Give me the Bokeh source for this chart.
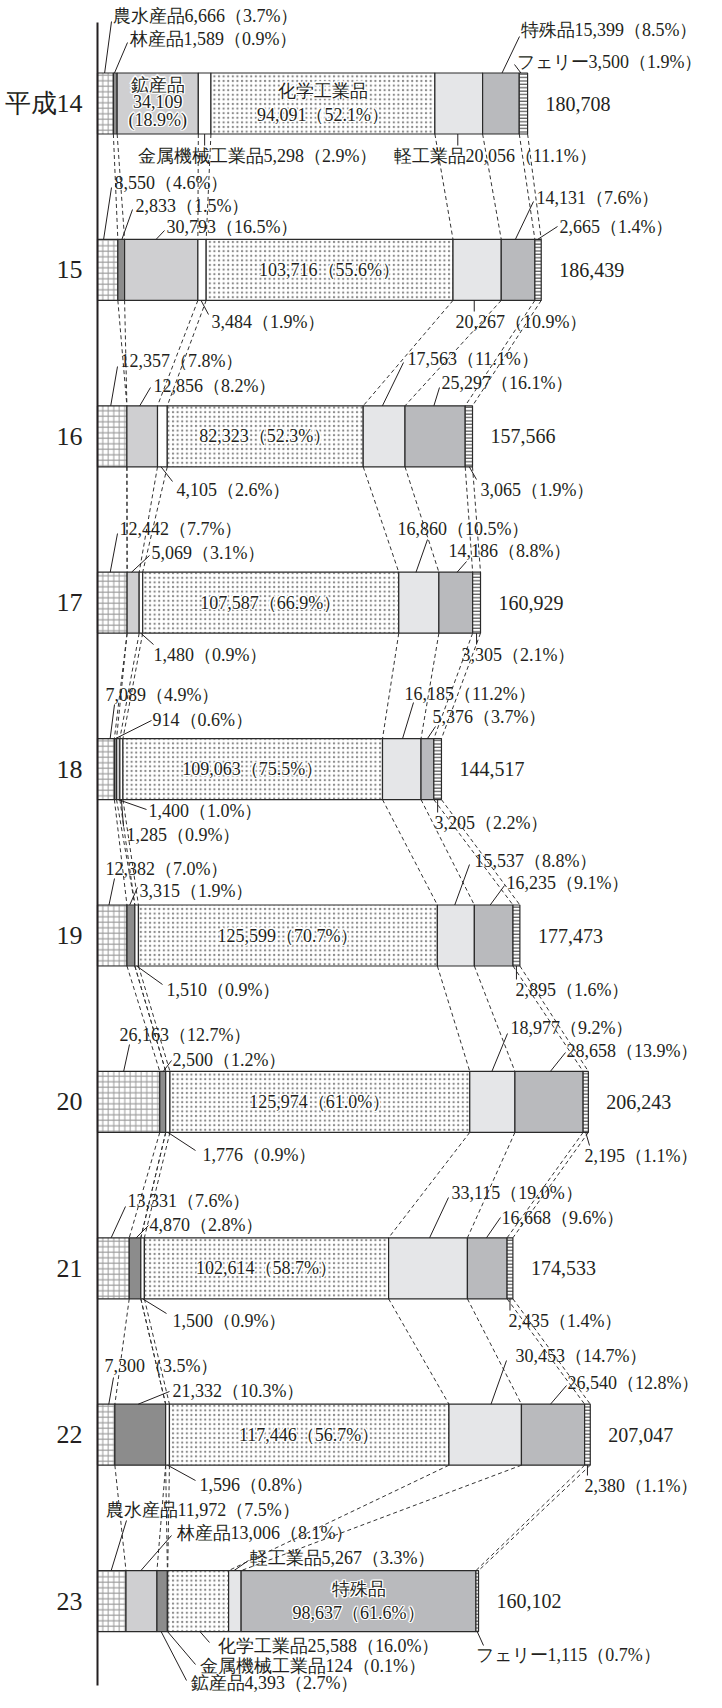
from bokeh.plotting import figure
from bokeh.models import ColumnDataSource, Range1d
from bokeh.core.properties import value
from bokeh.embed import file_html
from bokeh.resources import INLINE

# ---------------- data ----------------
years = ["平成14", "15", "16", "17", "18", "19", "20", "21", "22", "23"]
categories = ["農水産品", "林産品", "鉱産品", "金属機械工業品", "化学工業品", "軽工業品", "特殊品", "フェリー"]

agri    = [6666, 8550, 12357, 12442, 7089, 12382, 26163, 13331, 7300, 11972]
forest  = [1589, 2833, 0, 0, 914, 3315, 2500, 4870, 21332, 13006]
mineral = [34109, 30793, 12856, 5069, 1400, 0, 0, 0, 0, 4393]
metal   = [5298, 3484, 4105, 1480, 1285, 1510, 1776, 1500, 1596, 124]
chem    = [94091, 103716, 82323, 107587, 109063, 125599, 125974, 102614, 117446, 25588]
light   = [20056, 20267, 17563, 16860, 16185, 15537, 18977, 33115, 30453, 5267]
special = [15399, 14131, 25297, 14186, 5376, 16235, 28658, 16668, 26540, 98637]
ferry   = [3500, 2665, 3065, 3305, 3205, 2895, 2195, 2435, 2380, 1115]

pct_agri    = [3.7, 4.6, 7.8, 7.7, 4.9, 7.0, 12.7, 7.6, 3.5, 7.5]
pct_forest  = [0.9, 1.5, None, None, 0.6, 1.9, 1.2, 2.8, 10.3, 8.1]
pct_mineral = [18.9, 16.5, 8.2, 3.1, 1.0, None, None, None, None, 2.7]
pct_metal   = [2.9, 1.9, 2.6, 0.9, 0.9, 0.9, 0.9, 0.9, 0.8, 0.1]
pct_chem    = [52.1, 55.6, 52.3, 66.9, 75.5, 70.7, 61.0, 58.7, 56.7, 16.0]
pct_light   = [11.1, 10.9, 11.1, 10.5, 11.2, 8.8, 9.2, 19.0, 14.7, 3.3]
pct_special = [8.5, 7.6, 16.1, 8.8, 3.7, 9.1, 13.9, 9.6, 12.8, 61.6]
pct_ferry   = [1.9, 1.4, 1.9, 2.1, 2.2, 1.6, 1.1, 1.4, 1.1, 0.7]

totals = [180708, 186439, 157566, 160929, 144517, 177473, 206243, 174533, 207047, 160102]

series = [agri, forest, mineral, metal, chem, light, special, ferry]
pcts = [pct_agri, pct_forest, pct_mineral, pct_metal, pct_chem, pct_light, pct_special, pct_ferry]

# ---------------- styles ----------------
fills   = ["white", "#8c8c8c", "#cfcfd1", "white", "white", "#e5e6e8", "#b9babd", "white"]
hatches = ["+", None, None, None, ".", None, None, "-"]
hatch_colors = ["#9a9a9a", None, None, None, "#8a8a8a", None, None, "#333333"]
hatch_scales = [5.5, 12, 12, 12, 4.6, 12, 12, 3.4]
hatch_weights = [1.0, 1, 1, 1, 1.0, 1, 1, 1.0]
swap_shade_year = "23"   # in the last bar the two shades of forest/mineral are exchanged

INK = "#231f20"
NUM_FONT = value("Liberation Serif")
FS = "18px"

# ---------------- geometry ----------------
PX = 0.00238      # page pixels per unit
AX = 105          # page x of the axis
ROW0 = 111        # page y of the first bar centre
ROWH = 166.4      # page pixels between bars
BAR_H = 61        # bar thickness in page pixels
H = BAR_H / ROWH

def fx(px):
    return (px - AX) / PX

def fy(py):
    return (py - ROW0) / ROWH

p = figure(width=706, height=1692, x_range=Range1d(fx(8), fx(714)),
           y_range=Range1d(fy(1700), fy(8)), output_backend="svg",
           toolbar_location=None, min_border=0)
p.xaxis.visible = False
p.yaxis.visible = False
p.xgrid.visible = False
p.ygrid.visible = False
p.outline_line_color = None
p.background_fill_color = "white"
p.border_fill_color = "white"

n = len(years)
cum = []  # cum[i][k] = boundary k of bar i (k = 0..8)
for i in range(n):
    c = [0]
    for s in series:
        c.append(c[-1] + s[i])
    cum.append(c)

# dashed connectors between consecutive bars
cx0, cy0, cx1, cy1 = [], [], [], []
for i in range(n - 1):
    for k in range(1, 9):
        cx0.append(cum[i][k]); cy0.append(i + H / 2)
        cx1.append(cum[i + 1][k]); cy1.append(i + 1 - H / 2)
p.segment(x0=cx0, y0=cy0, x1=cx1, y1=cy1, line_color="#333333", line_width=1,
          line_dash="4 3")

# bars
for k, s in enumerate(series):
    ys, ls, rs, fc = [], [], [], []
    for i in range(n):
        if s[i] <= 0:
            continue
        ys.append(i); ls.append(cum[i][k]); rs.append(cum[i][k + 1])
        f = fills[k]
        if years[i] == swap_shade_year and k in (1, 2):
            f = fills[3 - k]
        fc.append(f)
    src = ColumnDataSource(dict(y=ys, left=ls, right=rs, fill=fc))
    kw = {}
    if hatches[k]:
        kw = dict(hatch_pattern=hatches[k], hatch_color=hatch_colors[k],
                  hatch_scale=hatch_scales[k], hatch_weight=hatch_weights[k])
    p.hbar(y="y", left="left", right="right", height=H, source=src,
           fill_color="fill", line_color="#2a2a2a", line_width=1.2, **kw)

# vertical axis line
p.segment(x0=[0], y0=[fy(30)], x1=[0], y1=[fy(1693)], line_color=INK, line_width=2)

# year labels
p.text(x=[0] * n, y=list(range(n)), text=years, x_offset=-15, text_align="right",
       text_baseline="middle", text_font=NUM_FONT, text_font_size="26px", text_color=INK)

# totals
p.text(x=totals, y=list(range(n)), text=[f"{t:,}" for t in totals], x_offset=18,
       text_align="left", text_baseline="middle", text_font=NUM_FONT,
       text_font_size="20px", text_color=INK)

def lab(i, k, name):
    v = series[k][i]
    pc = pcts[k][i]
    s = f"{v:,}（{pc:.1f}%）"
    return (categories[k] + s) if name else s

# callouts: year, category, text x, text y, leader start x, y, leader point in segment, edge (page px)
callouts = [
    (0, 0, 120, 23, 119, 29, 0.45, "t"), (0, 1, 137, 46, 135, 50, 0.3, "t"),
    (0, 6, 528, 37, 527, 44, 0.53, "t"), (0, 7, 524, 69, 522, 72, 0.2, "t"),
    (0, 3, 145, 163, None, None, 0.5, "b"), (0, 5, 401, 163, None, None, 0.48, "b"),
    (1, 0, 122, 190, 119, 195, 0.3, "t"), (1, 1, 143, 213, 140, 217, 0.6, "t"),
    (1, 2, 174, 234, 172, 238, 0.43, "t"), (1, 6, 544, 205, 541, 209, 0.42, "t"),
    (1, 7, 567, 234, 565, 234, 0.44, "t"), (1, 3, 219, 329, 216, 322, 0.38, "b"),
    (1, 5, 463, 329, None, None, 0.44, "b"),
    (2, 0, 128, 368, 125, 374, 0.45, "t"), (2, 2, 161, 393, 158, 395, 0.42, "t"),
    (2, 5, 415, 366, 411, 370, 0.46, "t"), (2, 6, 449, 390, 447, 395, 0.48, "t"),
    (2, 3, 184, 497, 180, 489, 0.36, "b"), (2, 7, 488, 497, 484, 487, 0.56, "b"),
    (3, 0, 127, 536, 125, 541, 0.43, "t"), (3, 2, 159, 560, 157, 563, 0.37, "t"),
    (3, 5, 405, 536, 435, 547, 0.43, "t"), (3, 6, 456, 558, 474, 569, 0.54, "t"),
    (3, 3, 161, 662, 161, 652, 0.45, "b"), (3, 7, 469, 662, None, None, 0.5, "b"),
    (4, 0, 113, 702, 122, 712, 0.75, "t"), (4, 1, 160, 727, 159, 728, 0.5, "t"),
    (4, 5, 412, 701, 421, 710, 0.52, "t"), (4, 6, 440, 724, 443, 734, 0.5, "t"),
    (4, 2, 156, 818, 154, 817, 0.5, "b"), (4, 3, 134, 842, 131, 834, 0.5, "b"),
    (4, 7, 442, 830, None, None, 0.5, "b"),
    (5, 0, 113, 876, 122, 886, 0.39, "t"), (5, 1, 147, 898, 145, 895, 0.35, "t"),
    (5, 5, 482, 868, 477, 872, 0.47, "t"), (5, 6, 514, 890, 512, 893, 0.41, "t"),
    (5, 3, 174, 997, 170, 992, 0.5, "b"), (5, 7, 523, 997, None, None, 0.5, "b"),
    (6, 0, 127, 1042, 137, 1052, 0.42, "t"), (6, 1, 180, 1067, 179, 1068, 0.6, "t"),
    (6, 5, 518, 1035, 515, 1041, 0.49, "t"), (6, 6, 574, 1058, 573, 1060, 0.52, "t"),
    (6, 3, 210, 1162, 203, 1158, 0.5, "b"), (6, 7, 592, 1163, 597, 1153, 0.5, "b"),
    (7, 0, 135, 1208, 133, 1214, 0.43, "t"), (7, 1, 157, 1232, 156, 1233, 0.6, "t"),
    (7, 5, 459, 1200, 456, 1205, 0.52, "t"), (7, 6, 509, 1225, 508, 1225, 0.48, "t"),
    (7, 3, 180, 1328, 174, 1321, 0.5, "b"), (7, 7, 516, 1328, None, None, 0.5, "b"),
    (8, 0, 112, 1373, 121, 1385, 0.65, "t"), (8, 1, 180, 1398, 177, 1399, 0.46, "t"),
    (8, 5, 523, 1363, 514, 1368, 0.58, "t"), (8, 6, 575, 1390, 574, 1393, 0.46, "t"),
    (8, 3, 207, 1492, 203, 1488, 0.5, "b"), (8, 7, 592, 1493, None, None, 0.5, "b"),
    (9, 0, 113, 1517, 134, 1528, 0.48, "t"), (9, 1, 184, 1540, 179, 1543, 0.48, "t"),
    (9, 5, 257, 1565, 256, 1568, 0.43, "t"), (9, 4, 225, 1653, 217, 1650, 0.53, "b"),
    (9, 3, 207, 1673, 203, 1672, 0.5, "b"), (9, 2, 198, 1690, 194, 1688, 0.4, "b"),
    (9, 7, 483, 1662, 491, 1653, 0.5, "b"),
]

tx, ty, tt = [], [], []
lx0, ly0, lx1, ly1 = [], [], [], []
for (i, k, x, y, sx, sy, fr, edge) in callouts:
    name = i in (0, n - 1)
    tx.append(fx(x)); ty.append(fy(y)); tt.append(lab(i, k, name))
    ex = cum[i][k] + fr * series[k][i]
    ey = i - H / 2 if edge == "t" else i + H / 2
    if sx is None:
        lx0.append(ex); ly0.append(ey); lx1.append(ex); ly1.append(fy(y - 10))
    else:
        lx0.append(fx(sx)); ly0.append(fy(sy)); lx1.append(ex); ly1.append(ey)
p.segment(x0=lx0, y0=ly0, x1=lx1, y1=ly1, line_color=INK, line_width=1)
p.text(x=tx, y=ty, text=tt, text_align="left", text_baseline="middle",
       text_font=NUM_FONT, text_font_size=FS, text_color=INK)

# labels inside bars: (year, category, lines, line offsets in page px)
inside = []
for i in range(n - 1):
    if i == 0:
        inside.append((i, 2, [categories[2], f"{series[2][i]:,}", f"({pcts[2][i]:.1f}%)"], [-19, -2, 16]))
        inside.append((i, 4, [categories[4], f"{series[4][i]:,}（{pcts[4][i]:.1f}%）"], [-13, 11]))
    else:
        inside.append((i, 4, [f"{series[4][i]:,}（{pcts[4][i]:.1f}%）"], [0]))
inside.append((n - 1, 6, [categories[6], f"{series[6][n-1]:,}（{pcts[6][n-1]:.1f}%）"], [-12, 12]))

ix, iy, it = [], [], []
for (i, k, lines, offs) in inside:
    xc = (cum[i][k] + cum[i][k + 1]) / 2
    for ln, o in zip(lines, offs):
        ix.append(xc); iy.append(i + o / ROWH); it.append(ln)
for dx, dy in [(-1.3, 0), (1.3, 0), (0, -1.3), (0, 1.3), (-1, -1), (1, 1), (-1, 1), (1, -1)]:
    p.text(x=ix, y=iy, text=it, x_offset=dx, y_offset=dy, text_align="center",
           text_baseline="middle", text_font=NUM_FONT, text_font_size=FS, text_color="white")
p.text(x=ix, y=iy, text=it, text_align="center", text_baseline="middle",
       text_font=NUM_FONT, text_font_size=FS, text_color=INK)

open("out.html", "w").write(file_html(p, INLINE))
